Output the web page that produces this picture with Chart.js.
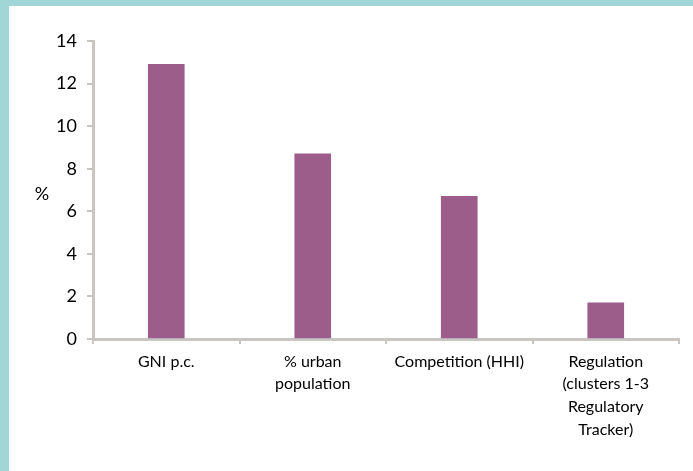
<!DOCTYPE html>
<html>
<head>
<meta charset="utf-8">
<script src="https://cdn.jsdelivr.net/npm/chart.js@4.4.1/dist/chart.umd.min.js"></script>
<style>
  html, body { margin: 0; padding: 0; background: #a0d6d6; }
  body { width: 693px; height: 471px; position: relative; overflow: hidden; }
  #frame { position: absolute; left: 9px; top: 6px; width: 684px; height: 465px; background: #fff; }
</style>
</head>
<body>
<div id="frame"><canvas id="chart" width="684" height="465"></canvas></div>
<script>
// categories and values
const categories = [
    'GNI p.c.',
    ['% urban', 'population'],
    'Competition (HHI)',
    ['Regulation', '(clusters 1-3', 'Regulatory', 'Tracker)']
];
const shares = [12.9, 8.7, 6.7, 1.7];
const yTicks = [0, 2, 4, 6, 8, 10, 12, 14];

const barColor = '#9c5d8b';
const axisColor = '#c9c5c1';
const fontFamily = 'Lato, "Open Sans", sans-serif';

// the "%" label sits horizontally to the left of the axis
const unitLabel = {
    id: 'unitLabel',
    afterDraw(chart) {
        const ctx = chart.ctx;
        const y = chart.scales.y;
        ctx.save();
        ctx.font = '18px ' + fontFamily;
        ctx.fillStyle = '#000';
        ctx.textAlign = 'center';
        ctx.textBaseline = 'middle';
        ctx.fillText('%', chart.chartArea.left - 51, y.getPixelForValue(6.8));
        ctx.restore();
    }
};

new Chart(document.getElementById('chart'), {
    type: 'bar',
    data: {
        labels: categories,
        datasets: [{
            data: shares,
            backgroundColor: barColor,
            barThickness: 36
        }]
    },
    options: {
        responsive: false,
        animation: false,
        layout: { padding: { top: 35, right: 14, left: 0, bottom: 0 } },
        plugins: { legend: { display: false }, tooltip: { enabled: false } },
        scales: {
            x: {
                grid: {
                    offset: true,
                    drawOnChartArea: false,
                    tickLength: 5,
                    color: axisColor,
                    lineWidth: 2
                },
                border: { color: axisColor, width: 3 },
                ticks: {
                    color: '#000',
                    font: { family: fontFamily, size: 16, lineHeight: 1.42 },
                    maxRotation: 0,
                    autoSkip: false,
                    padding: 6
                },
                afterFit(scale) { scale.height = 132; }
            },
            y: {
                min: 0,
                max: 14,
                afterBuildTicks(scale) {
                    scale.ticks = yTicks.map(v => ({ value: v }));
                },
                grid: {
                    drawOnChartArea: false,
                    tickLength: 6,
                    color: axisColor,
                    lineWidth: 2
                },
                border: { color: axisColor, width: 3 },
                ticks: {
                    color: '#000',
                    font: { family: fontFamily, size: 18 },
                    padding: 10
                },
                afterFit(scale) { scale.width = 84; }
            }
        }
    },
    plugins: [unitLabel]
});
</script>
</body>
</html>
